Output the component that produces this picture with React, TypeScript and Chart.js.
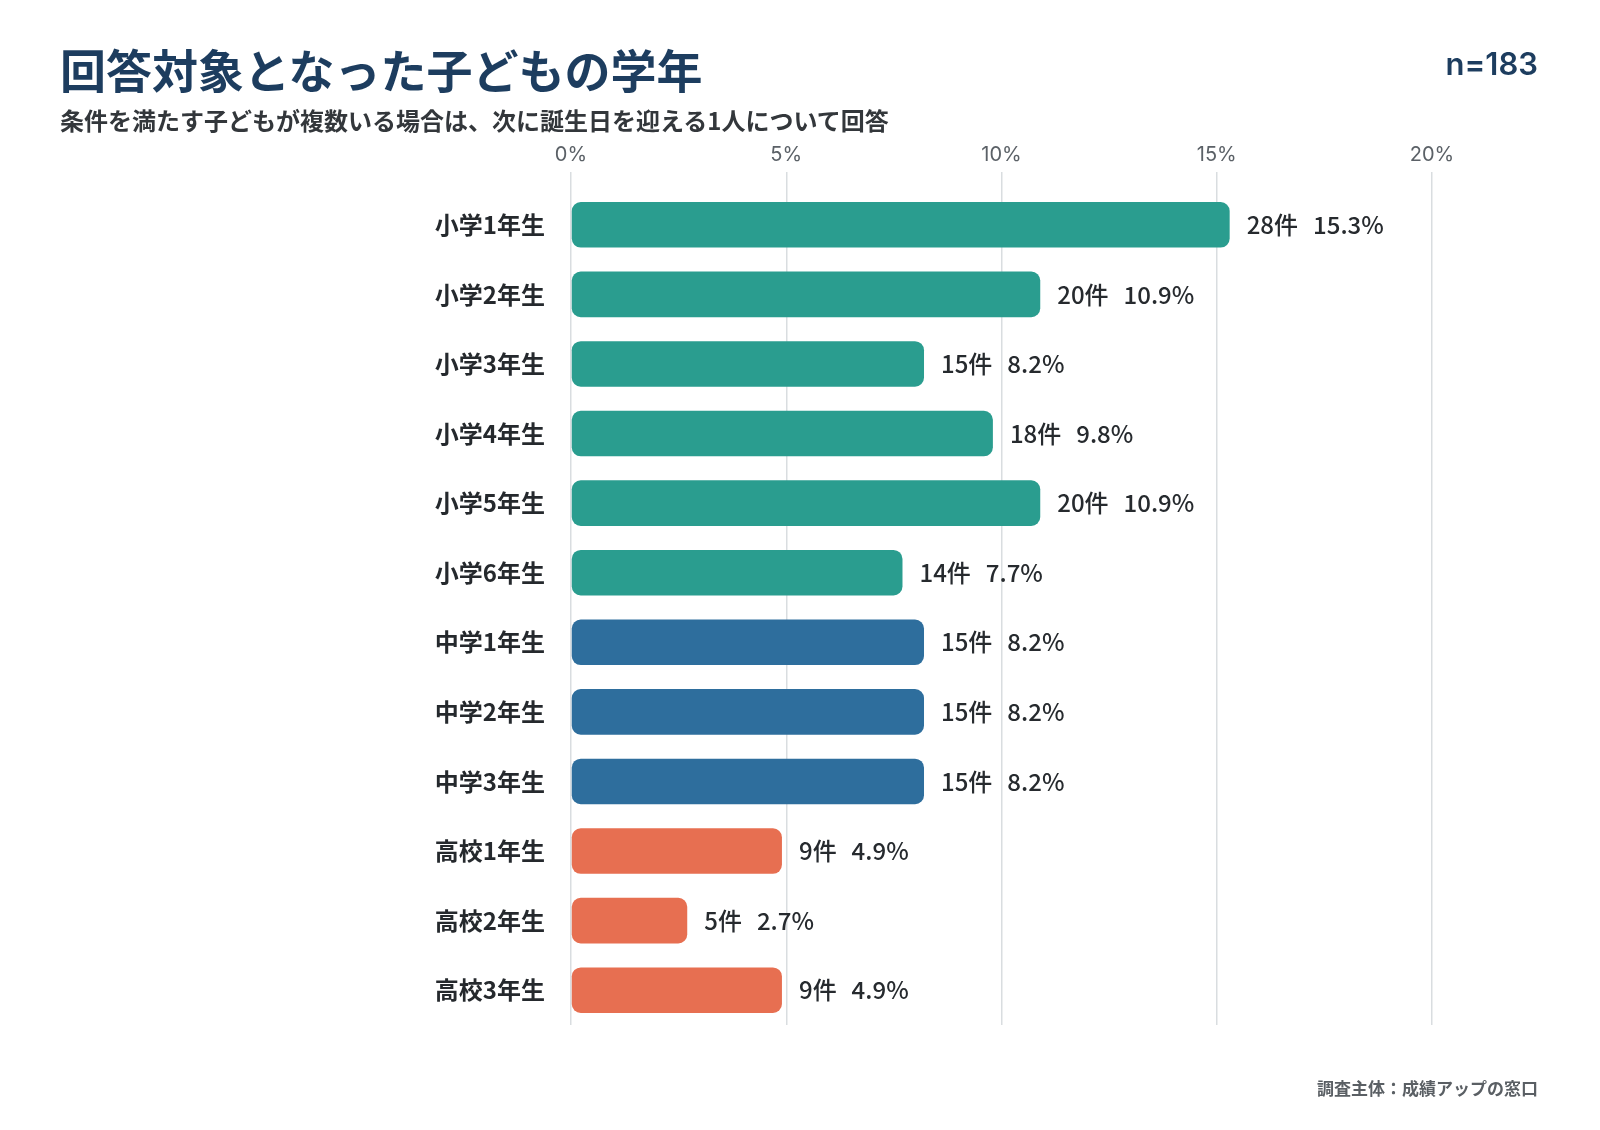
import React, { useEffect, useRef } from 'react';
import Chart from 'chart.js/auto';

// 学年ごとの回答数（n=183）
const grades = [
  '小学1年生', '小学2年生', '小学3年生', '小学4年生', '小学5年生', '小学6年生',
  '中学1年生', '中学2年生', '中学3年生',
  '高校1年生', '高校2年生', '高校3年生',
];
const counts = [28, 20, 15, 18, 20, 14, 15, 15, 15, 9, 5, 9];
const percents = [15.3, 10.9, 8.2, 9.8, 10.9, 7.7, 8.2, 8.2, 8.2, 4.9, 2.7, 4.9];
const xTicks = [0, 5, 10, 15, 20];

const CJK = '"Noto Sans CJK JP", "Noto Sans", sans-serif';

const colorFor = (label: string) => {
  if (label.startsWith('小学')) return '#2a9d8f';
  if (label.startsWith('中学')) return '#2e6e9d';
  return '#e76f51';
};

const barLabels = {
  id: 'barLabels',
  afterDatasetsDraw(chart: any) {
    const ctx = chart.ctx;
    const meta = chart.getDatasetMeta(0);
    ctx.save();
    ctx.font = `500 24px ${CJK}`;
    ctx.fillStyle = '#262a2e';
    ctx.textAlign = 'left';
    ctx.textBaseline = 'middle';
    meta.data.forEach((bar: any, i: number) => {
      const countText = `${counts[i]}件`;
      const x = bar.x + 17;
      ctx.fillText(countText, x, bar.y);
      const w = ctx.measureText(countText).width;
      ctx.fillText(`${percents[i]}%`, x + w + 15, bar.y);
    });
    ctx.restore();
  },
};

const GradeChart: React.FC = () => {
  const chartRef = useRef<HTMLCanvasElement>(null);

  useEffect(() => {
    if (!chartRef.current) return;
    const chart = new Chart(chartRef.current, {
      type: 'bar',
      data: {
        labels: grades,
        datasets: [
          {
            data: percents,
            backgroundColor: grades.map(colorFor),
            borderRadius: 9,
            borderSkipped: false,
            barPercentage: 0.655,
            categoryPercentage: 1,
          },
        ],
      },
      options: {
        indexAxis: 'y',
        responsive: false,
        animation: false,
        layout: { padding: { top: 130, right: 168, bottom: 105, left: 0 } },
        plugins: {
          legend: { display: false },
          tooltip: { enabled: false },
        },
        scales: {
          x: {
            position: 'top',
            min: 0,
            max: 20,
            afterFit: (scale: any) => {
              scale.height = 60;
            },
            afterBuildTicks: (scale: any) => {
              scale.ticks = xTicks.map((v) => ({ value: v }));
            },
            ticks: {
              padding: 5,
              color: '#5b6167',
              font: { family: 'Inter, "Noto Sans", sans-serif', size: 20 },
              callback: (v: any) => `${v}%`,
            },
            grid: {
              color: '#d9dde0',
              lineWidth: 1.5,
              tickLength: 18,
              drawTicks: true,
            },
            border: { display: false },
          },
          y: {
            afterFit: (scale: any) => {
              scale.width = 571;
            },
            ticks: {
              padding: 26,
              color: '#25292d',
              font: { family: CJK, size: 24, weight: 'bold' },
            },
            grid: { display: false, drawTicks: false },
            border: { display: false },
          },
        },
      },
      plugins: [barLabels],
    });
    return () => {
      chart.destroy();
    };
  }, []);

  return <canvas ref={chartRef} width={1600} height={1130} style={{ position: 'absolute', left: 0, top: 0 }} />;
};

export default function App() {
  return (
    <div
      style={{
        position: 'absolute',
        left: 0,
        top: 0,
        width: 1600,
        height: 1130,
        background: '#ffffff',
        overflow: 'hidden',
        fontFamily: CJK,
      }}
    >
      <GradeChart />
      <div
        style={{
          position: 'absolute',
          left: 60,
          top: 45,
          fontSize: 46,
          lineHeight: '46px',
          fontWeight: 'bold',
          color: '#1d3d5f',
          whiteSpace: 'nowrap',
        }}
      >
        回答対象となった子どもの学年
      </div>
      <div
        style={{
          position: 'absolute',
          right: 62,
          top: 48,
          fontSize: 31,
          lineHeight: '31px',
          fontWeight: 600,
          fontFamily: 'Inter, "Noto Sans", sans-serif',
          color: '#1d3d5f',
        }}
      >
        n=183
      </div>
      <div
        style={{
          position: 'absolute',
          left: 60,
          top: 108,
          fontSize: 24,
          lineHeight: '24px',
          fontWeight: 'bold',
          color: '#33373b',
          whiteSpace: 'nowrap',
        }}
      >
        条件を満たす子どもが複数いる場合は、次に誕生日を迎える1人について回答
      </div>
      <div
        style={{
          position: 'absolute',
          right: 62,
          top: 1079,
          fontSize: 17,
          lineHeight: '17px',
          fontWeight: 'bold',
          color: '#5a5f64',
          whiteSpace: 'nowrap',
        }}
      >
        調査主体：成績アップの窓口
      </div>
    </div>
  );
}
